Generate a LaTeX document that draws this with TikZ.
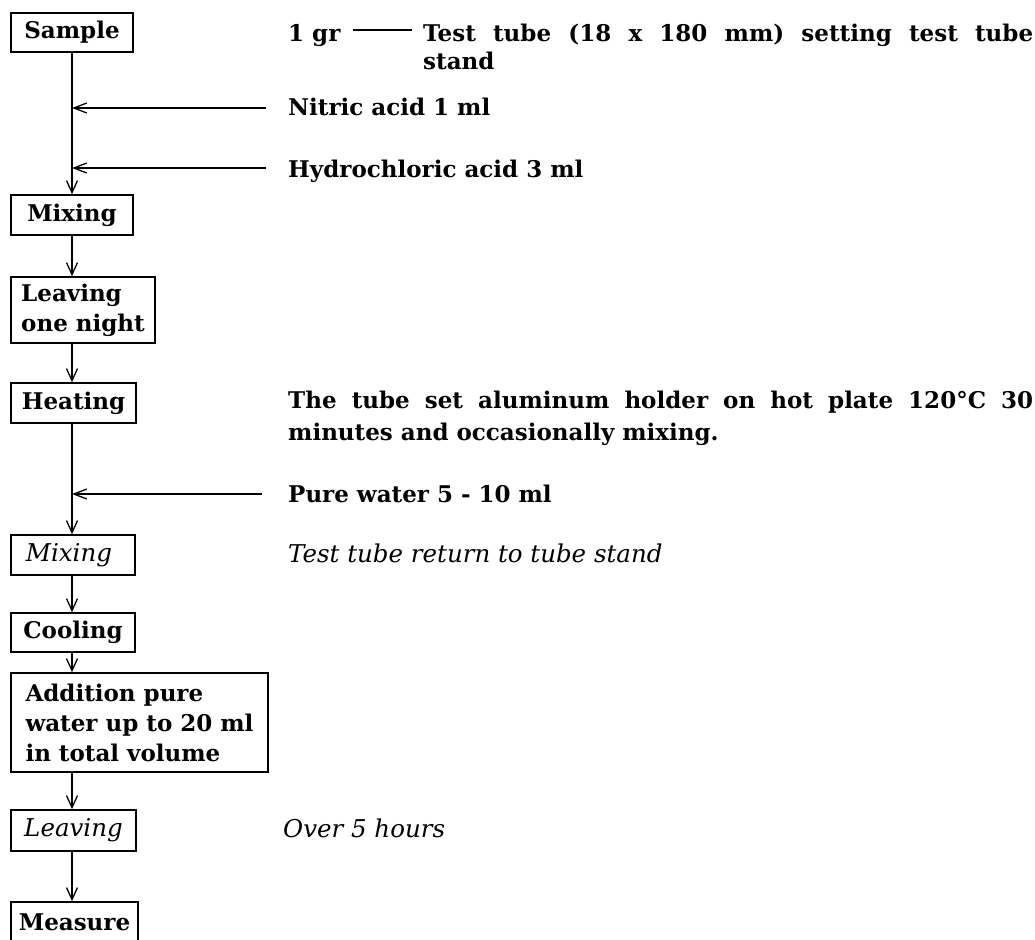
\documentclass[tikz,border=0pt]{standalone}
\usepackage{fontspec}
\setmainfont{DejaVu Serif}
\usetikzlibrary{arrows.meta}
\begin{document}
\begin{tikzpicture}[x=1pt,y=-1pt,
  every node/.style={font=\fontsize{23}{30}\selectfont\bfseries},
  itx/.style={font=\fontsize{24.5}{30}\selectfont\mdseries\itshape},
  stepbox/.style={draw, line width=1.7pt, inner sep=0pt, align=left},
  txt/.style={inner sep=0pt, anchor=base west},
  arr/.style={line width=1.7pt, -{Straight Barb[length=12pt,width=11pt,line width=1.3pt]}},
  feed/.style={line width=1.6pt, -{Straight Barb[length=13pt,width=10pt,line width=1.3pt]}}]
\fill[white] (0,0) rectangle (1035,939);
\useasboundingbox (0,0) rectangle (1035,939);
\coordinate (spine) at (72,0);
% boxes
\node[stepbox, minimum width=122pt, minimum height=39pt] (sample) at (72,32.5) {Sample};
\node[stepbox, minimum width=122pt, minimum height=40pt] (mix1) at (72,215) {Mixing};
\node[stepbox, minimum width=144pt, minimum height=66pt] (night) at (83,310) {Leaving\\one night};
\node[stepbox, minimum width=125pt, minimum height=40pt] (heat) at (73.5,403) {Heating};
\node[stepbox, itx, minimum width=124pt, minimum height=40pt] (mix2) at (73,555) {Mixing\hspace{8pt}};
\node[stepbox, minimum width=124pt, minimum height=39pt] (cool) at (73,632.5) {Cooling};
\node[stepbox, minimum width=257pt, minimum height=99pt] (add) at (139.5,722.5) {Addition pure\\water up to 20 ml\\in total volume};
\node[stepbox, itx, minimum width=125pt, minimum height=41pt] (leave) at (73.5,830.5) {Leaving};
\node[stepbox, minimum width=127pt, minimum height=40pt] (meas) at (74.5,922) {Measure};
% main flow
\draw[arr] (sample.south -| spine) -- (mix1.north -| spine);
\draw[arr] (mix1.south -| spine) -- (night.north -| spine);
\draw[arr] (night.south -| spine) -- (heat.north -| spine);
\draw[arr] (heat.south -| spine) -- (mix2.north -| spine);
\draw[arr] (mix2.south -| spine) -- (cool.north -| spine);
\draw[arr] (cool.south -| spine) -- (add.north -| spine);
\draw[arr] (add.south -| spine) -- (leave.north -| spine);
\draw[arr] (leave.south -| spine) -- (meas.north -| spine);
% side texts
\node[txt] (gr) at (288,42) {1 gr};
\node[txt] (tt) at (423,42) {\makebox[610pt][s]{Test tube (18 x 180 mm) setting test tube}};
\node[txt] (stand) at (423,70) {stand};
\node[txt] (nitric) at (288,115) {Nitric acid 1 ml};
\node[txt] (hcl) at (288,177) {Hydrochloric acid 3 ml};
\node[txt] (heat1) at (288,408) {\makebox[745pt][s]{The tube set aluminum holder on hot plate 120°C 30}};
\node[txt] (heat2) at (288,440) {minutes and occasionally mixing.};
\node[txt] (pure) at (288,502) {Pure water 5 - 10 ml};
\node[txt, itx] (ret) at (288,562) {Test tube return to tube stand};
\node[txt, itx] (over) at (283,837) {Over 5 hours};
% connectors
\draw[line width=1.3pt] ([xshift=12pt,yshift=12pt]gr.base east) -- ([xshift=-11pt,yshift=12pt]tt.base west);
\draw[feed] ([xshift=-22pt,yshift=7pt]nitric.base west) -- ([yshift=7pt]nitric.base west -| spine);
\draw[feed] ([xshift=-22pt,yshift=9pt]hcl.base west) -- ([yshift=9pt]hcl.base west -| spine);
\draw[feed] ([xshift=-26pt,yshift=8pt]pure.base west) -- ([yshift=8pt]pure.base west -| spine);
\end{tikzpicture}
\end{document}
